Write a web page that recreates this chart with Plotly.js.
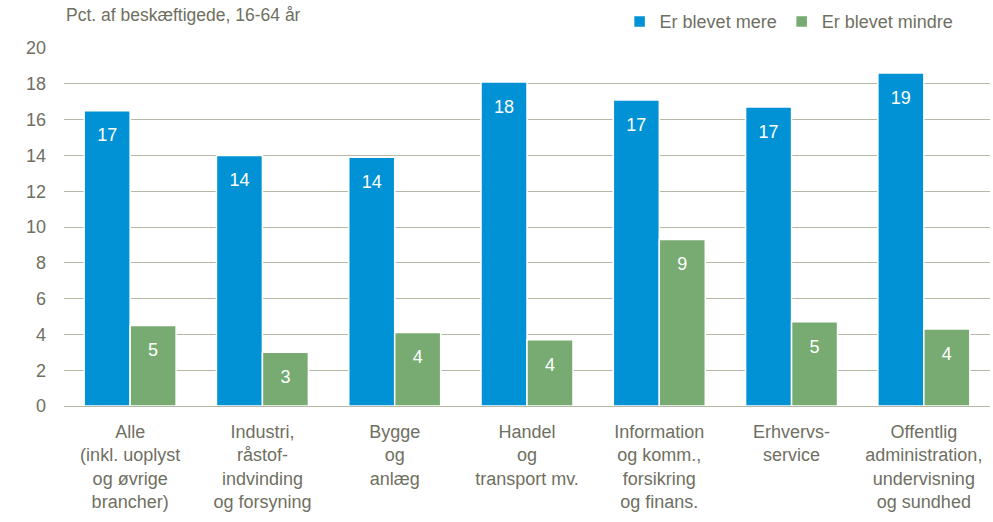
<!DOCTYPE html>
<html>
<head>
<meta charset="utf-8">
<script src="https://cdn.plot.ly/plotly-3.0.1.min.js"></script>
<style>html,body{margin:0;padding:0;background:#fff}#chart{width:993px;height:522px}</style>
</head>
<body>
<div id="chart"></div>
<script>
var categories = [
  "Alle<br>(inkl. uoplyst<br>og øvrige<br>brancher)",
  "Industri,<br>råstof-<br>indvinding<br>og forsyning",
  "Bygge<br>og<br>anlæg",
  "Handel<br>og<br>transport mv.",
  "Information<br>og komm.,<br>forsikring<br>og finans.",
  "Erhvervs-<br>service",
  "Offentlig<br>administration,<br>undervisning<br>og sundhed"
];
var mere = [16.5, 14.0, 13.9, 18.1, 17.1, 16.7, 18.6];
var mindre = [4.5, 3.0, 4.1, 3.7, 9.3, 4.7, 4.3];
var mereLabels = ["17", "14", "14", "18", "17", "17", "19"];
var mindreLabels = ["5", "3", "4", "4", "9", "5", "4"];

var font = "Liberation Sans, Arial, sans-serif";
var grey = "#6f6f62";
var idx = categories.map(function(_, i){ return i; });

function barTrace(name, y, color) {
  return {type: "bar", name: name, x: idx, y: y,
    marker: {color: color, line: {color: "#ffffff", width: 1.5}},
    hoverinfo: "skip"};
}
function labelTrace(y, labels) {
  return {type: "scatter", mode: "markers+text", x: idx, y: y, text: labels,
    textposition: "bottom center", showlegend: false, cliponaxis: false,
    marker: {size: 26, opacity: 0},
    textfont: {family: font, size: 18, color: "#ffffff"}, hoverinfo: "skip"};
}

var traces = [
  barTrace("Er blevet mere", mere, "#0092d5"),
  barTrace("Er blevet mindre", mindre, "#77ab72"),
  labelTrace(mere, mereLabels),
  labelTrace(mindre, mindreLabels)
];

var layout = {
  width: 993, height: 522,
  margin: {l: 64, r: 3, t: 46, b: 116},
  paper_bgcolor: "#ffffff", plot_bgcolor: "#ffffff",
  font: {family: font, size: 18, color: grey},
  barmode: "group", bargap: 0.305, bargroupgap: 0,
  scattermode: "group", scattergap: 0.305,
  showlegend: true,
  legend: {orientation: "h", x: 0.6, xanchor: "left", y: 1.125, yanchor: "top",
           font: {family: font, size: 18, color: grey}, traceorder: "normal",
           itemwidth: 30, bgcolor: "rgba(0,0,0,0)"},
  xaxis: {tickmode: "array", tickvals: idx, ticktext: categories,
          range: [-0.5, 6.5], showgrid: false, zeroline: false, showline: false,
          ticks: "", ticklabelstandoff: 13,
          tickfont: {family: font, size: 18, color: grey}, fixedrange: true},
  yaxis: {range: [0, 20], dtick: 2, showgrid: true, gridcolor: "#b7b7a6", gridwidth: 1,
          zeroline: true, zerolinecolor: "#b7b7a6", zerolinewidth: 1,
          showline: false, ticks: "", ticklabelstandoff: 17,
          tickfont: {family: font, size: 18, color: grey}, fixedrange: true},
  annotations: [{text: "Pct. af beskæftigede, 16-64 år", xref: "paper", yref: "paper",
                 x: 0, y: 1.125, xanchor: "left", yanchor: "top", showarrow: false,
                 font: {family: font, size: 17.5, color: grey}}]
};

Plotly.newPlot("chart", traces, layout, {staticPlot: true, displayModeBar: false});
</script>
</body>
</html>
